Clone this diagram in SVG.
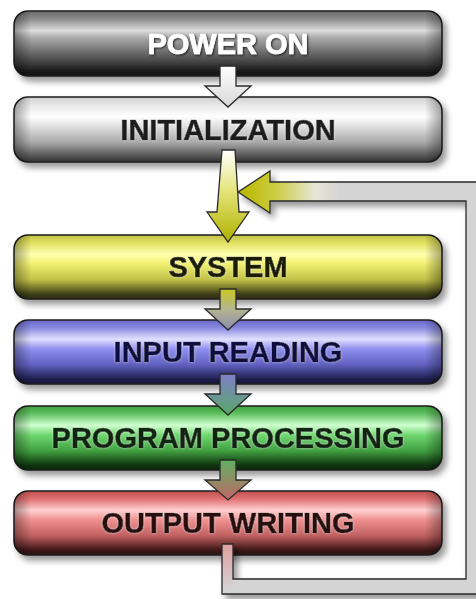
<svg xmlns="http://www.w3.org/2000/svg" width="476" height="599" viewBox="0 0 476 599">
<defs>
<style>
.box{stroke:#1e1e1e;stroke-width:1.5}
.lbl{font-family:"Liberation Sans",Arial,sans-serif;font-weight:bold;font-size:29px;text-anchor:middle;stroke-width:0.7;paint-order:stroke}
.arr{stroke:#2a2a2a;stroke-width:1.3;stroke-linejoin:miter}
</style>
<filter id="sh" x="-10%" y="-20%" width="125%" height="150%">
<feDropShadow dx="4" dy="5" stdDeviation="3" flood-color="#000" flood-opacity="0.4"/>
</filter>
<filter id="tsd" x="-10%" y="-30%" width="120%" height="160%">
<feDropShadow dx="1" dy="1" stdDeviation="1" flood-color="#000" flood-opacity="0.8"/>
</filter>
<filter id="tsl" x="-10%" y="-30%" width="120%" height="160%">
<feDropShadow dx="0" dy="0" stdDeviation="1.2" flood-color="#fff" flood-opacity="0.6"/>
</filter>
<linearGradient id="ends" x1="0" y1="0" x2="1" y2="0">
<stop offset="0" stop-color="#000" stop-opacity="0.35"/>
<stop offset="0.04" stop-color="#000" stop-opacity="0"/>
<stop offset="0.96" stop-color="#000" stop-opacity="0"/>
<stop offset="1" stop-color="#000" stop-opacity="0.35"/>
</linearGradient>
<linearGradient id="gPow" x1="0" y1="0" x2="0" y2="1">
<stop offset="0" stop-color="#6a6a6a"/><stop offset="0.12" stop-color="#8c8c8c"/><stop offset="0.3" stop-color="#dcdcdc"/><stop offset="0.42" stop-color="#a8a8a8"/><stop offset="0.7" stop-color="#5a5a5a"/><stop offset="0.92" stop-color="#1c1c1c"/><stop offset="1" stop-color="#111"/>
</linearGradient>
<linearGradient id="gIni" x1="0" y1="0" x2="0" y2="1">
<stop offset="0" stop-color="#cfcfcf"/><stop offset="0.12" stop-color="#e8e8e8"/><stop offset="0.3" stop-color="#ffffff"/><stop offset="0.45" stop-color="#e0e0e0"/><stop offset="0.7" stop-color="#a8a8a8"/><stop offset="0.92" stop-color="#505050"/><stop offset="1" stop-color="#333"/>
</linearGradient>
<linearGradient id="gSys" x1="0" y1="0" x2="0" y2="1">
<stop offset="0" stop-color="#c0c048"/><stop offset="0.12" stop-color="#e0e060"/><stop offset="0.3" stop-color="#ffffb0"/><stop offset="0.45" stop-color="#f0f070"/><stop offset="0.7" stop-color="#c0c048"/><stop offset="0.92" stop-color="#40401a"/><stop offset="1" stop-color="#2a2a10"/>
</linearGradient>
<linearGradient id="gInp" x1="0" y1="0" x2="0" y2="1">
<stop offset="0" stop-color="#6868c8"/><stop offset="0.12" stop-color="#8888e0"/><stop offset="0.3" stop-color="#e0e0ff"/><stop offset="0.45" stop-color="#9090f0"/><stop offset="0.7" stop-color="#6060c0"/><stop offset="0.92" stop-color="#202050"/><stop offset="1" stop-color="#151535"/>
</linearGradient>
<linearGradient id="gPrg" x1="0" y1="0" x2="0" y2="1">
<stop offset="0" stop-color="#40a040"/><stop offset="0.12" stop-color="#60c060"/><stop offset="0.3" stop-color="#d0ffd0"/><stop offset="0.45" stop-color="#70d870"/><stop offset="0.7" stop-color="#40a040"/><stop offset="0.92" stop-color="#103810"/><stop offset="1" stop-color="#0a250a"/>
</linearGradient>
<linearGradient id="gOut" x1="0" y1="0" x2="0" y2="1">
<stop offset="0" stop-color="#c05050"/><stop offset="0.12" stop-color="#e07070"/><stop offset="0.3" stop-color="#ffd0d0"/><stop offset="0.45" stop-color="#f09090"/><stop offset="0.7" stop-color="#c06060"/><stop offset="0.92" stop-color="#401818"/><stop offset="1" stop-color="#2a1010"/>
</linearGradient>
<linearGradient id="a1" x1="0" y1="0" x2="0" y2="1"><stop offset="0" stop-color="#ffffff"/><stop offset="1" stop-color="#d8d8d8"/></linearGradient>
<linearGradient id="a2" x1="0" y1="0" x2="0" y2="1"><stop offset="0" stop-color="#ffffff"/><stop offset="0.45" stop-color="#e4e478"/><stop offset="1" stop-color="#b0b000"/></linearGradient>
<linearGradient id="a3" x1="0" y1="0" x2="0" y2="1"><stop offset="0" stop-color="#c8c820"/><stop offset="0.5" stop-color="#b4b490"/><stop offset="1" stop-color="#8a8ab0"/></linearGradient>
<linearGradient id="a4" x1="0" y1="0" x2="0" y2="1"><stop offset="0" stop-color="#8080c8"/><stop offset="1" stop-color="#58a868"/></linearGradient>
<linearGradient id="a5" x1="0" y1="0" x2="0" y2="1"><stop offset="0" stop-color="#60b060"/><stop offset="1" stop-color="#c06868"/></linearGradient>
<linearGradient id="fbHead" gradientUnits="userSpaceOnUse" x1="240" y1="0" x2="340" y2="0"><stop offset="0" stop-color="#b8b600"/><stop offset="0.35" stop-color="#cccc40"/><stop offset="0.75" stop-color="#e6e6d8"/><stop offset="1" stop-color="#d4d4d4"/></linearGradient>
<linearGradient id="fbStub" gradientUnits="userSpaceOnUse" x1="0" y1="544" x2="0" y2="590"><stop offset="0" stop-color="#e0a0a0"/><stop offset="1" stop-color="#d4d4d4"/></linearGradient>
</defs>
<rect width="476" height="599" fill="#ffffff"/>

<g id="power-on">
<rect class="box" x="14" y="11" width="428" height="65" rx="14" fill="url(#gPow)" filter="url(#sh)"/>
<rect x="14" y="11" width="428" height="65" rx="14" fill="url(#ends)"/>
<text class="lbl" x="228" y="54" fill="#ffffff" stroke="#ffffff" filter="url(#tsd)">POWER ON</text>
</g>
<g id="initialization">
<rect class="box" x="14" y="97" width="428" height="65" rx="14" fill="url(#gIni)" filter="url(#sh)"/>
<rect x="14" y="97" width="428" height="65" rx="14" fill="url(#ends)"/>
<text class="lbl" x="228" y="140" fill="#1a1a1a" stroke="#1a1a1a" filter="url(#tsl)">INITIALIZATION</text>
</g>
<g id="system">
<rect class="box" x="14" y="235" width="428" height="64" rx="14" fill="url(#gSys)" filter="url(#sh)"/>
<rect x="14" y="235" width="428" height="64" rx="14" fill="url(#ends)"/>
<text class="lbl" x="228" y="277" fill="#1a1a00" stroke="#1a1a00" filter="url(#tsl)">SYSTEM</text>
</g>
<g id="input-reading">
<rect class="box" x="14" y="320" width="428" height="64" rx="14" fill="url(#gInp)" filter="url(#sh)"/>
<rect x="14" y="320" width="428" height="64" rx="14" fill="url(#ends)"/>
<text class="lbl" x="228" y="362" fill="#101040" stroke="#101040" filter="url(#tsl)">INPUT READING</text>
</g>
<g id="program-processing">
<rect class="box" x="14" y="406" width="428" height="64" rx="14" fill="url(#gPrg)" filter="url(#sh)"/>
<rect x="14" y="406" width="428" height="64" rx="14" fill="url(#ends)"/>
<text class="lbl" x="228" y="448" fill="#0c250c" stroke="#0c250c" filter="url(#tsl)">PROGRAM PROCESSING</text>
</g>
<g id="output-writing">
<rect class="box" x="14" y="491" width="428" height="64" rx="14" fill="url(#gOut)" filter="url(#sh)"/>
<rect x="14" y="491" width="428" height="64" rx="14" fill="url(#ends)"/>
<text class="lbl" x="228" y="533" fill="#2a0808" stroke="#2a0808" filter="url(#tsl)">OUTPUT WRITING</text>
</g>

<g id="connectors">
<g id="feedback" filter="url(#sh)">
<path d="M238,192 L270,171 L270,182 L480,182 L480,594 L222,594 L222,544 L233,544 L233,579 L466,579 L466,201 L270,201 L270,213 Z" fill="#d4d4d4"/>
<path d="M238,192 L270,171 L270,182 L466,182 L466,201 L270,201 L270,213 Z" fill="url(#fbHead)"/>
<rect x="222" y="544" width="11" height="50" fill="url(#fbStub)"/>
<path d="M480,182 L270,182 L270,171 L238,192 L270,213 L270,201 L466,201 L466,579 L233,579 L233,544 L222,544 L222,594 L480,594" fill="none" stroke="#2a2a2a" stroke-width="1.3" stroke-linejoin="miter"/>
</g>
<path class="arr" d="M220,66 L236,66 L236,86 L251,86 L228,107 L205,86 L220,86 Z" fill="url(#a1)"/>
<path class="arr" d="M222,150 L235,150 L239,212 L249,212 L228,242 L207,212 L217,212 Z" fill="url(#a2)"/>
<path class="arr" d="M220,289 L236,289 L236,309 L251,309 L228,330 L205,309 L220,309 Z" fill="url(#a3)"/>
<path class="arr" d="M220,374 L236,374 L236,394 L251,394 L228,415 L205,394 L220,394 Z" fill="url(#a4)"/>
<path class="arr" d="M220,460 L236,460 L236,480 L251,480 L228,500 L205,480 L220,480 Z" fill="url(#a5)"/>
</g>
</svg>
